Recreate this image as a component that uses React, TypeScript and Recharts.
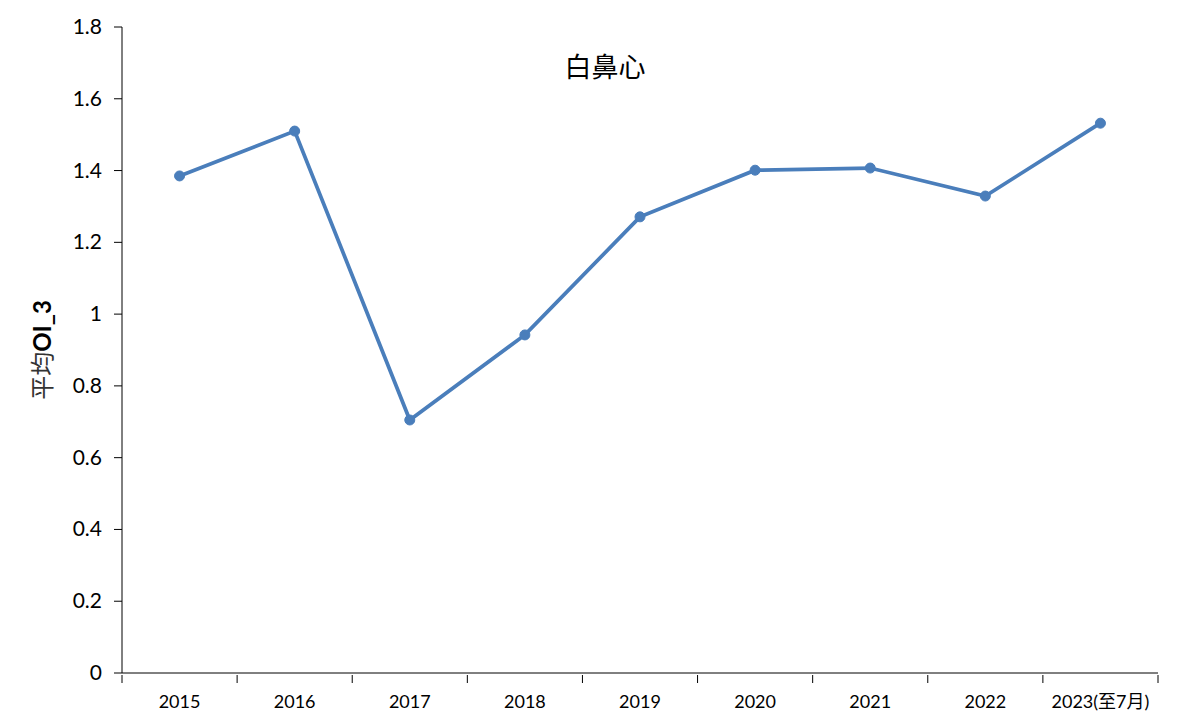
import React from "react";
import { LineChart, Line, XAxis, YAxis } from "recharts";

const categories = ["2015", "2016", "2017", "2018", "2019", "2020", "2021", "2022", "2023(至7月)"];
const values = [1.385, 1.51, 0.705, 0.942, 1.271, 1.401, 1.407, 1.329, 1.532];
const yTicks = [0, 0.2, 0.4, 0.6, 0.8, 1, 1.2, 1.4, 1.6, 1.8];
const title = "白鼻心";

const data = categories.map((c, i) => ({ name: c, value: values[i] }));

const W = 1182;
const H = 727;
const M = { top: 27, right: 24, bottom: 14, left: 62 };
const YW = 60;
const plotW = W - M.left - M.right - YW;
const band = plotW / categories.length;

const FONT = "Lato, 'Noto Sans CJK TC', sans-serif";

const XTick = (props: any) => {
  const { x, y, payload, index } = props;
  const last = index === categories.length - 1;
  return (
    <g>
      <line x1={x - band / 2} y1={y} x2={x - band / 2} y2={y + 8} stroke="#000" strokeWidth={1} />
      {last && <line x1={x + band / 2} y1={y} x2={x + band / 2} y2={y + 8} stroke="#000" strokeWidth={1} />}
      <text x={x} y={y + 33} textAnchor="middle" fontSize={18} fill="#000" fontFamily={FONT}>
        {payload.value}
      </text>
    </g>
  );
};

const YTick = (props: any) => {
  const { x, y, payload } = props;
  return (
    <text x={x - 10} y={y} dy={7} textAnchor="end" fontSize={21} fill="#000" fontFamily={FONT}>
      {String(payload.value)}
    </text>
  );
};

const YLabel = () => (
  <text
    transform="translate(51,350) rotate(-90)"
    textAnchor="middle"
    fontSize={24}
    fill="#000"
    fontFamily={FONT}
  >
    <tspan fontFamily="'Noto Sans CJK TC'" fill="#333">平均</tspan>
    <tspan fontWeight="bold">OI_3</tspan>
  </text>
);

export default function App() {
  return (
    <div style={{ position: "absolute", left: 0, top: 0, width: W, height: H, background: "#fff" }}>
      <LineChart width={W} height={H} data={data} margin={M}>
        <text x={605} y={77} textAnchor="middle" fontSize={27} fill="#000" fontFamily="'Noto Sans CJK TC'">
          {title}
        </text>
        <XAxis
          dataKey="name"
          axisLine={{ stroke: "#000" }}
          tickLine={false}
          tickSize={0}
          tick={<XTick />}
          height={40}
          interval={0}
          padding={{ left: band / 2, right: band / 2 }}
        />
        <YAxis
          width={YW}
          domain={[0, 1.8]}
          ticks={yTicks}
          interval={0}
          axisLine={{ stroke: "#000" }}
          tickLine={{ stroke: "#000" }}
          tickSize={8}
          tick={<YTick />}
          label={<YLabel />}
        />
        <Line
          type="linear"
          dataKey="value"
          stroke="#4A7EBB"
          strokeWidth={3.75}
          dot={{ r: 5, fill: "#4A7EBB", stroke: "#4A7EBB", strokeWidth: 1 }}
          isAnimationActive={false}
        />
      </LineChart>
    </div>
  );
}
